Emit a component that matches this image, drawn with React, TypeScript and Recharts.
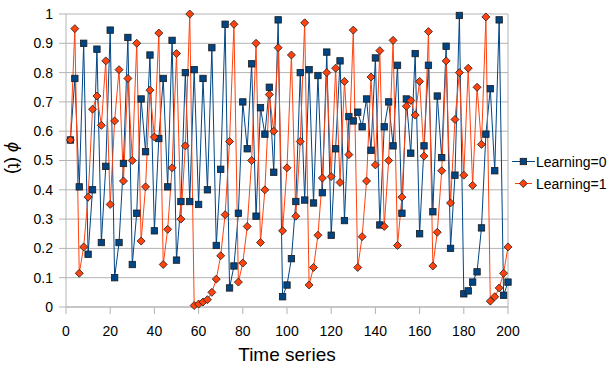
import React from "react";
import {
  CartesianGrid,
  Label,
  Line,
  LineChart,
  ReferenceLine,
  XAxis,
  YAxis,
} from "recharts";

const timeSteps = [
  2, 4, 6, 8, 10, 12, 14, 16, 18, 20, 22, 24, 26, 28, 30, 32, 34, 36, 38, 40,
  42, 44, 46, 48, 50, 52, 54, 56, 58, 60, 62, 64, 66, 68, 70, 72, 74, 76, 78, 80,
  82, 84, 86, 88, 90, 92, 94, 96, 98, 100, 102, 104, 106, 108, 110, 112, 114, 116, 118, 120,
  122, 124, 126, 128, 130, 132, 134, 136, 138, 140, 142, 144, 146, 148, 150, 152, 154, 156, 158, 160,
  162, 164, 166, 168, 170, 172, 174, 176, 178, 180, 182, 184, 186, 188, 190, 192, 194, 196, 198, 200,
];

const learning0 = [
  0.57, 0.78, 0.41, 0.9, 0.18, 0.4, 0.88, 0.22, 0.48, 0.945,
  0.1, 0.22, 0.49, 0.92, 0.145, 0.32, 0.71, 0.53, 0.86, 0.26,
  0.575, 0.78, 0.41, 0.91, 0.16, 0.36, 0.8, 0.36, 0.81, 0.35,
  0.78, 0.4, 0.885, 0.21, 0.47, 0.965, 0.065, 0.14, 0.32, 0.7,
  0.54, 0.83, 0.31, 0.68, 0.59, 0.75, 0.46, 0.98, 0.035, 0.075,
  0.165, 0.36, 0.8, 0.365, 0.81, 0.355, 0.79, 0.39, 0.87, 0.245,
  0.54, 0.84, 0.295, 0.65, 0.635, 0.665, 0.615, 0.71, 0.535, 0.85,
  0.28, 0.615, 0.7, 0.55, 0.825, 0.32, 0.71, 0.525, 0.865, 0.25,
  0.55, 0.825, 0.325, 0.72, 0.51, 0.89, 0.2, 0.45, 0.995, 0.045,
  0.055, 0.085, 0.12, 0.27, 0.59, 0.745, 0.465, 0.98, 0.04, 0.085,
];

const learning1 = [
  0.57, 0.95, 0.115, 0.205, 0.375, 0.675, 0.72, 0.62, 0.84, 0.35,
  0.635, 0.81, 0.43, 0.78, 0.5, 0.9, 0.225, 0.41, 0.74, 0.58,
  0.935, 0.145, 0.265, 0.475, 0.865, 0.3, 0.55, 1.0, 0.005, 0.01,
  0.017, 0.025, 0.05, 0.095, 0.175, 0.315, 0.565, 0.965, 0.085, 0.15,
  0.275, 0.5, 0.9, 0.22, 0.4, 0.725, 0.6, 0.885, 0.26, 0.475,
  0.86, 0.31, 0.565, 0.97, 0.075, 0.135, 0.245, 0.44, 0.8, 0.445,
  0.815, 0.425, 0.77, 0.52, 0.945, 0.135, 0.24, 0.43, 0.785, 0.485,
  0.875, 0.275, 0.5, 0.91, 0.21, 0.375, 0.685, 0.705, 0.655, 0.77,
  0.515, 0.94, 0.14, 0.255, 0.465, 0.84, 0.355, 0.64, 0.8, 0.45,
  0.815, 0.415, 0.75, 0.555, 0.99, 0.02, 0.035, 0.065, 0.115, 0.205,
];

const xTicks = [0, 20, 40, 60, 80, 100, 120, 140, 160, 180, 200];
const yTicks = [0, 0.1, 0.2, 0.3, 0.4, 0.5, 0.6, 0.7, 0.8, 0.9, 1];

const data = timeSteps.map((t, i) => ({ t, l0: learning0[i], l1: learning1[i] }));

const BLUE = "#004586";
const RED = "#ff420e";
const GRID = "#b3b3b3";
const EDGE = "#1c1c1c";
const FONT = "'Liberation Sans', Arial, sans-serif";

const SquareDot = (props: any) => {
  const { cx, cy, index } = props;
  if (cx == null || cy == null) return <g key={index} />;
  return (
    <rect key={index} x={cx - 3.2} y={cy - 3.2} width={6.4} height={6.4} fill={BLUE} stroke={EDGE} strokeWidth={0.8} />
  );
};

const DiamondDot = (props: any) => {
  const { cx, cy, index } = props;
  if (cx == null || cy == null) return <g key={index} />;
  const r = 4;
  return (
    <polygon
      key={index}
      points={`${cx},${cy - r} ${cx + r},${cy} ${cx},${cy + r} ${cx - r},${cy}`}
      fill={RED}
      stroke={EDGE}
      strokeWidth={0.8}
    />
  );
};

const XTitle = (props: any) => {
  const { x, width } = props.viewBox;
  return (
    <text x={x + width / 2} y={361} textAnchor="middle" fill="#000" fontSize={19} fontFamily={FONT}>
      Time series
    </text>
  );
};

const YTitle = () => (
  <text
    transform="translate(8, 158) rotate(90)"
    textAnchor="middle"
    fill="#000"
    fontSize={18}
    fontFamily={FONT}
  >
    <tspan fontStyle="italic">ϕ</tspan>
    <tspan> (t)</tspan>
  </text>
);

const Legend = () => (
  <svg style={{ position: "absolute", left: 505, top: 145 }} width={105} height={50}>
    <line x1={7} y1={16.5} x2={30} y2={16.5} stroke={BLUE} strokeWidth={1} />
    <rect x={15.2} y={13.3} width={6.4} height={6.4} fill={BLUE} stroke={EDGE} strokeWidth={0.8} />
    <text x={31} y={21.5} fontSize={14} fontFamily={FONT} fill="#000">
      Learning=0
    </text>
    <line x1={10} y1={38.5} x2={27} y2={38.5} stroke={RED} strokeWidth={1} />
    <polygon points="18.3,34.5 22.3,38.5 18.3,42.5 14.3,38.5" fill={RED} stroke={EDGE} strokeWidth={0.8} />
    <text x={31} y={43.5} fontSize={14} fontFamily={FONT} fill="#000">
      Learning=1
    </text>
  </svg>
);

export default function App() {
  return (
    <div style={{ position: "absolute", left: 0, top: 0, width: 610, height: 367, background: "#fff" }}>
      <LineChart width={610} height={367} data={data} margin={{ top: 14, right: 102, left: 6, bottom: 5 }}>
        <CartesianGrid vertical={false} stroke={GRID} />
        <XAxis
          dataKey="t"
          type="number"
          domain={[0, 200]}
          ticks={xTicks}
          interval={0}
          stroke={GRID}
          tickSize={7}
          tickMargin={12}
          height={55}
          tick={{ fill: "#000", fontSize: 14, fontFamily: FONT }}
        >
          <Label content={XTitle} />
        </XAxis>
        <YAxis
          type="number"
          domain={[0, 1]}
          ticks={yTicks}
          interval={0}
          stroke={GRID}
          tickSize={7}
          tickMargin={6}
          width={60}
          tick={{ fill: "#000", fontSize: 14, fontFamily: FONT }}
        >
          <Label content={YTitle} />
        </YAxis>
        <ReferenceLine x={200} stroke={GRID} />
        <Line
          dataKey="l0"
          stroke={BLUE}
          strokeWidth={1}
          dot={SquareDot}
          activeDot={false}
          isAnimationActive={false}
        />
        <Line
          dataKey="l1"
          stroke={RED}
          strokeWidth={1}
          dot={DiamondDot}
          activeDot={false}
          isAnimationActive={false}
        />
      </LineChart>
      <Legend />
    </div>
  );
}
